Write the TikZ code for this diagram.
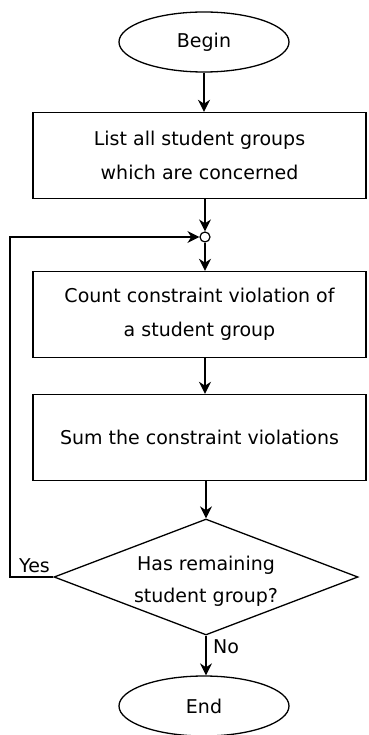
\documentclass[tikz,border=0pt]{standalone}
\usepackage{fontspec}
\setmainfont{DejaVu Sans}
\usetikzlibrary{shapes.geometric,arrows.meta}
\begin{document}
\begin{tikzpicture}[x=1pt,y=-1pt,
  every node/.style={font=\fontsize{19}{34}\selectfont},
  terminal/.style={draw,ellipse,line width=1.3pt,minimum width=170pt,minimum height=60pt,inner sep=0pt},
  process/.style={draw,rectangle,line width=1.4pt,minimum width=333pt,minimum height=86pt,inner sep=0pt,align=center},
  decision/.style={draw,diamond,line width=1.3pt,minimum width=304pt,minimum height=116pt,aspect=2.62,inner sep=0pt},
  flow/.style={line width=1.4pt,-{Stealth[length=12pt,width=12pt]}},
  lbl/.style={inner sep=0pt}
]
\useasboundingbox (0,0) rectangle (368,735);

% start and the list of groups
\node[terminal] (begin) at (204,42) {Begin};
\node[process] (list) at (199.5,155.5) {List all student groups\\which are concerned};

% loop junction
\node[draw,circle,line width=1.2pt,minimum size=10pt,inner sep=0pt,fill=white] (join) at (205,237) {};

% loop body
\node[process] (count) at (199.5,314.5) {Count constraint violation of\\a student group};
\node[process] (sum) at (199.5,437.5) {Sum the constraint violations};

% loop test, its question set slightly below the centre
\node[decision,label={[align=center,inner sep=0pt,yshift=-4pt,font=\fontsize{19}{32}\selectfont]center:Has remaining\\student group?}] (test) at (206,577) {};

% end
\node[terminal] (end) at (204,706) {End};

% x position of the return line
\coordinate (back) at (10,0);

% connectors
\draw[flow] (begin.south) -- (list.north -| begin.south);
\draw[flow] (list.south -| join.north) -- (join.north);
\draw[flow] (join.south) -- (count.north -| join.south);
\draw[flow] (count.south -| join.south) -- (sum.north -| join.south);
\draw[flow] (sum.south -| test.north) -- (test.north);
\draw[flow] (test.south) -- (end.north -| test.south);
\draw[flow] (test.west) -- (test.west -| back) |- (join.west);

% branch labels
\node[lbl,anchor=south west] (yes) at (19,573) {Yes};
\node[lbl,anchor=west] (no) at (213,647) {No};
\end{tikzpicture}
\end{document}
